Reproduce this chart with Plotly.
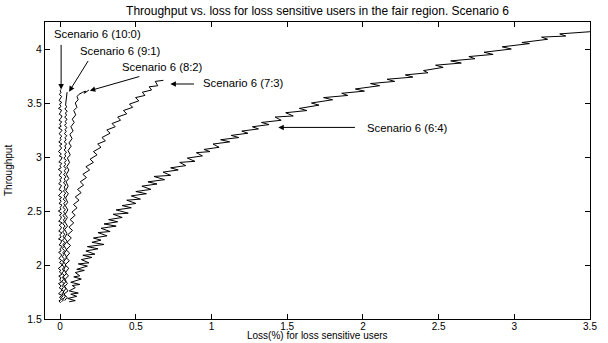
import plotly.graph_objects as go

# Loss (%) and throughput traces for each user mix of scenario 6
loss_100 = [0.003, -0.008, 0.009, -0.004, 0.012, -0.010, 0.005, 0.013, -0.006, 0.007,
            -0.011, 0.010, -0.003, 0.006, -0.009, 0.012, -0.005, 0.004, -0.012, 0.008,
            0.013, -0.004, 0.009, -0.008, 0.002, 0.011, -0.010, 0.006, -0.002, 0.014,
            -0.007, 0.005, 0.010, -0.011, 0.007, -0.003, 0.012, -0.009, 0.004, 0.009,
            -0.006, 0.013, -0.010, 0.003, 0.008, -0.005, 0.011, -0.012, 0.006, 0.000,
            0.012, -0.008, 0.007, -0.004, 0.010, -0.011, 0.005, 0.013, -0.007, 0.002,
            0.009, -0.010, 0.006, -0.003, 0.012, -0.008, 0.004, 0.010, -0.012, 0.007,
            -0.002, 0.011, -0.009, 0.005, 0.013, -0.006, 0.008, -0.011, 0.003, 0.010,
            -0.004, 0.012, -0.009, 0.006, -0.001, 0.011, -0.007, 0.004, 0.013, -0.010,
            0.007, -0.003, 0.010, -0.008, 0.005, 0.012, -0.006, 0.002, 0.009, -0.011,
            0.006, -0.004, 0.011, -0.007, 0.004, 0.010, -0.005, 0.006, 0.000, 0.004]
thr_100 = [1.650, 1.668, 1.681, 1.702, 1.719, 1.733, 1.756, 1.771, 1.789, 1.806,
           1.828, 1.842, 1.861, 1.883, 1.897, 1.915, 1.936, 1.951, 1.968, 1.990,
           2.006, 2.021, 2.043, 2.061, 2.076, 2.094, 2.117, 2.131, 2.150, 2.171,
           2.186, 2.204, 2.226, 2.241, 2.259, 2.280, 2.296, 2.313, 2.335, 2.350,
           2.368, 2.391, 2.405, 2.423, 2.446, 2.460, 2.478, 2.500, 2.515, 2.533,
           2.555, 2.570, 2.588, 2.611, 2.625, 2.643, 2.666, 2.680, 2.698, 2.720,
           2.736, 2.753, 2.775, 2.790, 2.808, 2.831, 2.845, 2.863, 2.885, 2.901,
           2.918, 2.940, 2.955, 2.973, 2.996, 3.010, 3.028, 3.050, 3.066, 3.083,
           3.105, 3.120, 3.138, 3.161, 3.175, 3.193, 3.215, 3.231, 3.248, 3.270,
           3.285, 3.303, 3.326, 3.340, 3.358, 3.380, 3.396, 3.413, 3.435, 3.450,
           3.468, 3.490, 3.505, 3.523, 3.545, 3.561, 3.578, 3.600, 3.612, 3.625]

loss_91 = [0.010, 0.022, 0.008, 0.019, 0.013, 0.025, 0.009, 0.021, 0.014, 0.026,
           0.011, 0.023, 0.016, 0.027, 0.010, 0.024, 0.015, 0.028, 0.012, 0.022,
           0.017, 0.029, 0.013, 0.025, 0.018, 0.030, 0.014, 0.026, 0.019, 0.031,
           0.015, 0.027, 0.020, 0.032, 0.016, 0.028, 0.021, 0.033, 0.017, 0.029,
           0.022, 0.034, 0.018, 0.030, 0.023, 0.035, 0.019, 0.031, 0.024, 0.036,
           0.020, 0.032, 0.025, 0.037, 0.021, 0.033, 0.026, 0.038, 0.022, 0.034,
           0.027, 0.039, 0.023, 0.035, 0.028, 0.040, 0.024, 0.036, 0.029, 0.041,
           0.025, 0.037, 0.030, 0.042, 0.026, 0.038, 0.031, 0.043, 0.027, 0.039,
           0.032, 0.044, 0.028, 0.040, 0.033, 0.045, 0.029, 0.041, 0.034, 0.046,
           0.030, 0.042, 0.035, 0.047, 0.031, 0.043, 0.036, 0.040, 0.044, 0.046]
thr_91 = [1.660, 1.678, 1.697, 1.716, 1.734, 1.755, 1.772, 1.791, 1.811, 1.829,
          1.848, 1.868, 1.886, 1.905, 1.925, 1.943, 1.962, 1.982, 2.000, 2.019,
          2.039, 2.057, 2.076, 2.096, 2.114, 2.133, 2.153, 2.171, 2.190, 2.210,
          2.228, 2.247, 2.267, 2.285, 2.304, 2.324, 2.342, 2.361, 2.381, 2.399,
          2.418, 2.438, 2.456, 2.475, 2.495, 2.513, 2.532, 2.552, 2.570, 2.589,
          2.609, 2.627, 2.646, 2.666, 2.684, 2.703, 2.723, 2.741, 2.760, 2.780,
          2.798, 2.817, 2.837, 2.855, 2.874, 2.894, 2.912, 2.931, 2.951, 2.969,
          2.988, 3.008, 3.026, 3.045, 3.065, 3.083, 3.102, 3.122, 3.140, 3.159,
          3.179, 3.197, 3.216, 3.236, 3.254, 3.273, 3.293, 3.311, 3.330, 3.350,
          3.368, 3.387, 3.407, 3.425, 3.444, 3.464, 3.482, 3.521, 3.560, 3.600]

loss_82 = [0.018, 0.034, 0.020, 0.037, 0.022, 0.040, 0.021, 0.041, 0.025, 0.038,
           0.023, 0.044, 0.027, 0.043, 0.025, 0.046, 0.029, 0.045, 0.030, 0.049,
           0.031, 0.048, 0.033, 0.051, 0.034, 0.050, 0.036, 0.054, 0.037, 0.053,
           0.039, 0.057, 0.041, 0.058, 0.044, 0.062, 0.048, 0.067, 0.052, 0.073,
           0.058, 0.079, 0.064, 0.086, 0.071, 0.093, 0.080, 0.103, 0.090, 0.111,
           0.100, 0.119, 0.112, 0.124, 0.150, 0.168, 0.160, 0.190]
thr_82 = [1.68, 1.71, 1.75, 1.78, 1.82, 1.85, 1.89, 1.92, 1.96, 2.00,
          2.03, 2.07, 2.11, 2.14, 2.18, 2.22, 2.25, 2.29, 2.33, 2.36,
          2.40, 2.44, 2.47, 2.51, 2.55, 2.58, 2.62, 2.66, 2.69, 2.73,
          2.77, 2.80, 2.84, 2.88, 2.91, 2.95, 2.99, 3.02, 3.06, 3.10,
          3.13, 3.17, 3.21, 3.24, 3.28, 3.32, 3.35, 3.39, 3.43, 3.46,
          3.50, 3.53, 3.56, 3.58, 3.60, 3.61, 3.59, 3.62]

loss_73 = [0.030, 0.046, 0.025, 0.052, 0.030, 0.049, 0.028, 0.055, 0.035, 0.057,
           0.032, 0.061, 0.038, 0.063, 0.040, 0.069, 0.045, 0.074, 0.050, 0.082,
           0.058, 0.090, 0.066, 0.099, 0.078, 0.112, 0.088, 0.125, 0.100, 0.139,
           0.115, 0.155, 0.133, 0.174, 0.150, 0.195, 0.170, 0.220, 0.198, 0.244,
           0.220, 0.270, 0.248, 0.299, 0.276, 0.330, 0.308, 0.364, 0.343, 0.399,
           0.380, 0.440, 0.418, 0.479, 0.458, 0.520, 0.498, 0.560, 0.543, 0.604,
           0.588, 0.645, 0.628, 0.682]
thr_73 = [1.67, 1.70, 1.73, 1.76, 1.80, 1.83, 1.86, 1.90, 1.93, 1.97,
          2.00, 2.04, 2.07, 2.11, 2.14, 2.18, 2.21, 2.25, 2.28, 2.32,
          2.35, 2.39, 2.42, 2.46, 2.49, 2.53, 2.56, 2.60, 2.63, 2.67,
          2.70, 2.74, 2.77, 2.81, 2.84, 2.88, 2.91, 2.95, 2.98, 3.02,
          3.05, 3.09, 3.12, 3.15, 3.18, 3.22, 3.25, 3.28, 3.31, 3.34,
          3.37, 3.40, 3.43, 3.46, 3.49, 3.52, 3.55, 3.57, 3.60, 3.62,
          3.65, 3.66, 3.70, 3.71]

loss_64 = [0.06, 0.10, 0.05, 0.11, 0.07, 0.12, 0.06, 0.10, 0.08, 0.13,
           0.07, 0.14, 0.09, 0.13, 0.10, 0.16, 0.11, 0.18, 0.12, 0.19,
           0.14, 0.21, 0.15, 0.23, 0.17, 0.25, 0.18, 0.29, 0.21, 0.27,
           0.22, 0.31, 0.25, 0.33, 0.27, 0.37, 0.29, 0.38, 0.32, 0.41,
           0.35, 0.45, 0.37, 0.47, 0.41, 0.50, 0.44, 0.53, 0.47, 0.57,
           0.50, 0.60, 0.54, 0.64, 0.58, 0.69, 0.62, 0.73, 0.68, 0.78,
           0.73, 0.83, 0.79, 0.89, 0.84, 0.94, 0.90, 0.99, 0.95, 1.05,
           1.01, 1.12, 1.06, 1.18, 1.13, 1.24, 1.20, 1.31, 1.27, 1.38,
           1.33, 1.46, 1.42, 1.54, 1.49, 1.63, 1.58, 1.71, 1.66, 1.80,
           1.74, 1.90, 1.86, 2.01, 1.95, 2.11, 2.05, 2.21, 2.16, 2.33,
           2.28, 2.43, 2.40, 2.53, 2.48, 2.65, 2.58, 2.74, 2.70, 2.86,
           2.80, 2.98, 2.92, 3.10, 3.05, 3.22, 3.18, 3.34, 3.30, 3.45,
           3.50]
thr_64 = [1.66, 1.67, 1.69, 1.71, 1.73, 1.74, 1.76, 1.79, 1.81, 1.82,
          1.84, 1.87, 1.89, 1.90, 1.93, 1.95, 1.96, 1.99, 2.01, 2.02,
          2.05, 2.07, 2.09, 2.10, 2.13, 2.15, 2.17, 2.19, 2.21, 2.23,
          2.25, 2.27, 2.30, 2.31, 2.34, 2.36, 2.38, 2.40, 2.42, 2.44,
          2.47, 2.48, 2.51, 2.53, 2.55, 2.57, 2.60, 2.61, 2.64, 2.66,
          2.68, 2.70, 2.73, 2.75, 2.77, 2.79, 2.82, 2.83, 2.86, 2.88,
          2.90, 2.92, 2.95, 2.96, 2.99, 3.01, 3.04, 3.05, 3.07, 3.09,
          3.12, 3.14, 3.16, 3.18, 3.20, 3.22, 3.24, 3.26, 3.28, 3.30,
          3.32, 3.34, 3.37, 3.38, 3.41, 3.43, 3.45, 3.48, 3.50, 3.53,
          3.55, 3.57, 3.59, 3.61, 3.63, 3.66, 3.68, 3.70, 3.72, 3.74,
          3.76, 3.78, 3.80, 3.83, 3.85, 3.87, 3.89, 3.91, 3.93, 3.95,
          3.97, 4.00, 4.02, 4.05, 4.06, 4.09, 4.11, 4.12, 4.14, 4.15,
          4.16]

series = [
    ("Scenario 6 (10:0)", loss_100, thr_100),
    ("Scenario 6 (9:1)", loss_91, thr_91),
    ("Scenario 6 (8:2)", loss_82, thr_82),
    ("Scenario 6 (7:3)", loss_73, thr_73),
    ("Scenario 6 (6:4)", loss_64, thr_64),
]

# Label text position (left edge, middle) and arrow tail -> head, in data units
label_pos = [(-0.055, 4.135), (0.121, 3.982), (0.397, 3.835), (0.930, 3.682), (2.011, 3.271)]
arrow_tail = [(0.0065, 4.052), (0.191, 3.903), (0.533, 3.749), (0.894, 3.676), (1.957, 3.274)]
arrow_head = [(0.0065, 3.625), (0.059, 3.605), (0.196, 3.614), (0.728, 3.676), (1.441, 3.274)]

x_ticks = [0, 0.5, 1, 1.5, 2, 2.5, 3, 3.5]
x_ticktext = ["0", "0.5", "1", "1.5", "2", "2.5", "3", "3.5"]
y_ticks = [1.5, 2, 2.5, 3, 3.5, 4]
y_ticktext = ["1.5", "2", "2.5", "3", "3.5", "4"]

FONT = "Liberation Sans, Arial, Helvetica, sans-serif"

fig = go.Figure()
for name, lx, ty in series:
    fig.add_trace(go.Scatter(x=lx, y=ty, mode="lines", name=name,
                             line=dict(color="black", width=1), showlegend=False))

annotations = []
for (name, _, _), (tx, ty), (ax, ay), (hx, hy) in zip(series, label_pos, arrow_tail, arrow_head):
    annotations.append(dict(x=tx, y=ty, xref="x", yref="y", text=name, showarrow=False,
                            xanchor="left", yanchor="middle",
                            font=dict(family=FONT, size=11.3, color="black")))
    annotations.append(dict(x=hx, y=hy, xref="x", yref="y", ax=ax, ay=ay,
                            axref="x", ayref="y", text="", showarrow=True,
                            arrowhead=2, arrowsize=1.1, arrowwidth=1,
                            arrowcolor="black", standoff=0, startstandoff=0))

annotations.append(dict(text="Loss(%) for loss sensitive users", xref="paper", yref="paper",
                        x=0.5, y=-0.0736, xanchor="center", yanchor="bottom", showarrow=False,
                        borderpad=0, borderwidth=0,
                        font=dict(family=FONT, size=10, color="black")))
annotations.append(dict(text="Throughput", xref="paper", yref="paper", textangle=-90,
                        x=-0.067, y=0.5, xanchor="center", yanchor="middle", showarrow=False,
                        font=dict(family=FONT, size=10, color="black")))

axis_common = dict(showline=True, linecolor="black", linewidth=1, mirror="ticks",
                   ticks="inside", ticklen=5, tickwidth=1, tickcolor="black",
                   showgrid=False, zeroline=False)

fig.update_layout(
    width=608, height=343,
    margin=dict(l=45, r=11, t=22, b=22),
    paper_bgcolor="white", plot_bgcolor="white",
    title=dict(text="Throughput vs. loss for loss sensitive users in the fair region. Scenario 6",
               x=0.5, xref="paper", y=1 - 11 / 343, yref="container",
               xanchor="center", yanchor="middle",
               font=dict(family=FONT, size=12, color="black")),
    xaxis=dict(range=[-0.1, 3.5], tickvals=x_ticks, ticktext=x_ticktext,
               ticklabelstandoff=-2, tickfont=dict(family=FONT, size=10, color="black"),
               **axis_common),
    yaxis=dict(range=[1.5, 4.25], tickvals=y_ticks, ticktext=y_ticktext,
               tickfont=dict(family=FONT, size=10.5, color="black"), **axis_common),
    annotations=annotations,
)

fig.write_html("out.html")
